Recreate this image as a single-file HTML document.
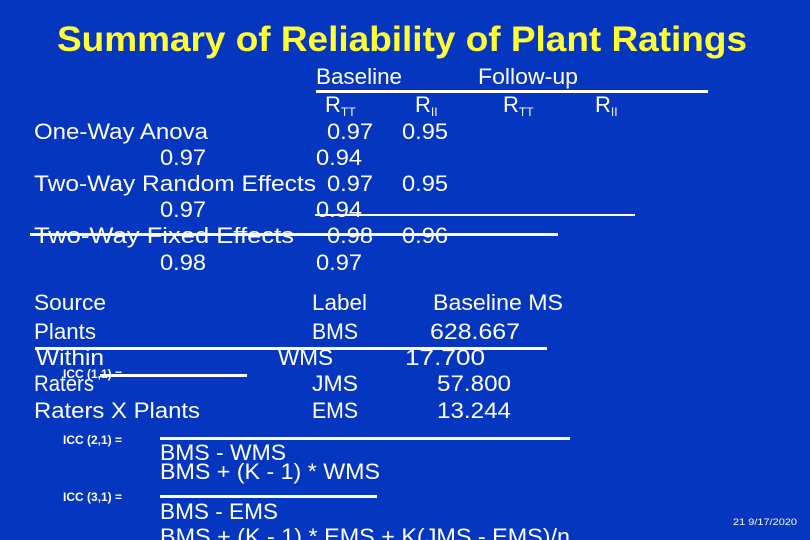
<!DOCTYPE html>
<html><head><meta charset="utf-8"><style>
html,body{margin:0;padding:0;background:#0536bf;}
svg{display:block;font-family:"Liberation Sans",sans-serif;}
text{fill:#fff;font-size:22px;}
</style></head><body>
<svg width="810" height="540" viewBox="0 0 810 540">
<rect width="810" height="540" fill="#0536bf"/>
<text x="57" y="51" textLength="690" lengthAdjust="spacingAndGlyphs" style="fill:#ffff33;font-size:35px;font-weight:bold">Summary of Reliability of Plant Ratings</text>

<g>
<text x="316" y="84" textLength="86" lengthAdjust="spacingAndGlyphs">Baseline</text>
<text x="478" y="84" textLength="100" lengthAdjust="spacingAndGlyphs">Follow-up</text>
<rect x="316" y="90" width="392" height="3" fill="#fff"/>
<text x="325" y="112">R<tspan font-size="12" dy="4">TT</tspan></text>
<text x="415" y="112">R<tspan font-size="12" dy="4">II</tspan></text>
<text x="503" y="112">R<tspan font-size="12" dy="4">TT</tspan></text>
<text x="595" y="112">R<tspan font-size="12" dy="4">II</tspan></text>

<text x="34" y="139" textLength="174" lengthAdjust="spacingAndGlyphs">One-Way Anova</text>
<text x="327" y="139" textLength="46" lengthAdjust="spacingAndGlyphs">0.97</text><text x="402" y="139" textLength="46" lengthAdjust="spacingAndGlyphs">0.95</text>
<text x="160" y="165" textLength="46" lengthAdjust="spacingAndGlyphs">0.97</text><text x="316" y="165" textLength="46" lengthAdjust="spacingAndGlyphs">0.94</text>
<text x="34" y="191" textLength="282" lengthAdjust="spacingAndGlyphs">Two-Way Random Effects</text>
<text x="327" y="191" textLength="46" lengthAdjust="spacingAndGlyphs">0.97</text><text x="402" y="191" textLength="46" lengthAdjust="spacingAndGlyphs">0.95</text>
<rect x="315" y="214" width="320" height="2" fill="#fff"/>
<text x="160" y="217" textLength="46" lengthAdjust="spacingAndGlyphs">0.97</text><text x="316" y="217" textLength="46" lengthAdjust="spacingAndGlyphs">0.94</text>
<text x="34" y="243" textLength="260" lengthAdjust="spacingAndGlyphs">Two-Way Fixed Effects</text>
<text x="327" y="243" textLength="46" lengthAdjust="spacingAndGlyphs">0.98</text><text x="402" y="243" textLength="46" lengthAdjust="spacingAndGlyphs">0.96</text>
<rect x="30" y="233" width="528" height="3" fill="#fff"/>
<text x="160" y="270" textLength="46" lengthAdjust="spacingAndGlyphs">0.98</text><text x="316" y="270" textLength="46" lengthAdjust="spacingAndGlyphs">0.97</text>
</g>

<g>
<text x="34" y="310" textLength="72" lengthAdjust="spacingAndGlyphs">Source</text><text x="312" y="310" textLength="55" lengthAdjust="spacingAndGlyphs">Label</text><text x="433" y="310" textLength="130" lengthAdjust="spacingAndGlyphs">Baseline MS</text>
<text x="34" y="339" textLength="62" lengthAdjust="spacingAndGlyphs">Plants</text><text x="312" y="339" textLength="46" lengthAdjust="spacingAndGlyphs">BMS</text><text x="430" y="339" textLength="90" lengthAdjust="spacingAndGlyphs">628.667</text>
<rect x="35" y="347" width="512" height="3" fill="#fff"/>
<text x="36" y="365" textLength="68" lengthAdjust="spacingAndGlyphs">Within</text><text x="278" y="365" textLength="55" lengthAdjust="spacingAndGlyphs">WMS</text><text x="405" y="365" textLength="80" lengthAdjust="spacingAndGlyphs">17.700</text>
<text x="34" y="391" textLength="60" lengthAdjust="spacingAndGlyphs">Raters</text><text x="312" y="391" textLength="46" lengthAdjust="spacingAndGlyphs">JMS</text><text x="437" y="391" textLength="74" lengthAdjust="spacingAndGlyphs">57.800</text>
<text x="63" y="378" style="font-size:12px;font-weight:bold">ICC (1,1) =</text>
<rect x="100" y="374" width="147" height="3" fill="#fff"/>
<text x="34" y="418" textLength="166" lengthAdjust="spacingAndGlyphs">Raters X Plants</text><text x="312" y="418" textLength="46" lengthAdjust="spacingAndGlyphs">EMS</text><text x="437" y="418" textLength="74" lengthAdjust="spacingAndGlyphs">13.244</text>
</g>

<g>
<text x="63" y="444" style="font-size:12px;font-weight:bold">ICC (2,1) =</text>
<rect x="160" y="437" width="410" height="3" fill="#fff"/>
<text x="160" y="460" textLength="126" lengthAdjust="spacingAndGlyphs">BMS - WMS</text>
<text x="160" y="479" textLength="220" lengthAdjust="spacingAndGlyphs">BMS + (K - 1) * WMS</text>
<text x="63" y="501" style="font-size:12px;font-weight:bold">ICC (3,1) =</text>
<rect x="160" y="495" width="217" height="3" fill="#fff"/>
<text x="160" y="519" textLength="118" lengthAdjust="spacingAndGlyphs">BMS - EMS</text>
<text x="160" y="544" textLength="410" lengthAdjust="spacingAndGlyphs">BMS + (K - 1) * EMS + K(JMS - EMS)/n</text>
</g>
<text x="733" y="525" style="font-size:9px" textLength="64" lengthAdjust="spacingAndGlyphs">21 9/17/2020</text>
</svg>
</body></html>
